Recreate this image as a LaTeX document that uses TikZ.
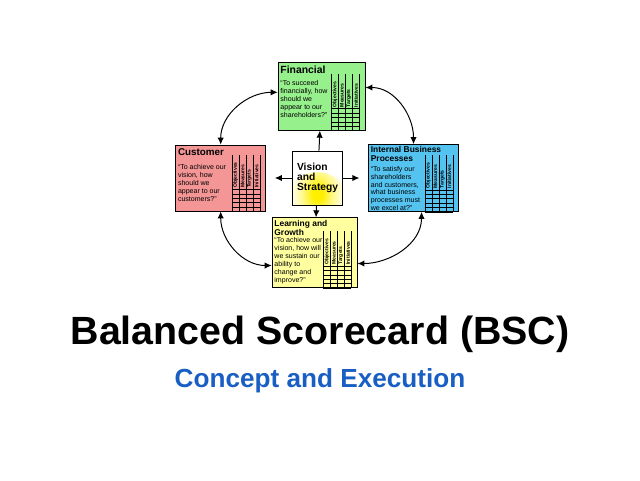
\documentclass[tikz,border=0pt]{standalone}
\usepackage{fontspec}
\setmainfont{Liberation Sans}
\usetikzlibrary{positioning,arrows.meta}

\definecolor{finfill}{RGB}{150,240,140}
\definecolor{cusfill}{RGB}{245,150,150}
\definecolor{ibpfill}{RGB}{85,195,240}
\definecolor{lrnfill}{RGB}{255,255,160}
\definecolor{subblue}{RGB}{25,95,195}
\definecolor{glowyellow}{RGB}{255,240,0}

\pgfdeclareradialshading{visionglow}{\pgfpoint{0bp}{0bp}}{%
  color(0bp)=(glowyellow); color(4bp)=(glowyellow);
  color(12bp)=(glowyellow!45!white); color(22bp)=(white); color(50bp)=(white)}

\tikzset{
  card/.style={draw, line width=0.5pt, fill=#1, inner sep=0pt},
  cardtitle/.style={anchor=north west, inner sep=0pt, align=left,
    font=\fontsize{7}{7.4}\selectfont\bfseries},
  cardtext/.style={anchor=north west, inner sep=0pt, align=left,
    font=\fontsize{5}{5.7}\selectfont},
  gridline/.style={line width=0.3pt},
  hdr/.style={rotate=90, anchor=west, inner sep=0pt,
    font=\fontsize{3.6}{4}\selectfont\bfseries},
  link/.style={line width=0.7pt, -{Latex[length=5pt,width=4.5pt]}},
  twoway/.style={line width=0.7pt, {Latex[length=5pt,width=4.5pt]}-{Latex[length=5pt,width=4.5pt]}}
}

% objectives / measures / targets / initiatives table in a card
\newcommand{\cardgrid}[1]{%
  \begin{scope}[shift={(#1.south east)}]
    \foreach \i in {0,...,4}
      \draw[gridline] (-0.85+\i*0.175,0) -- (-0.85+\i*0.175,1.42);
    \foreach \j in {0,...,5}
      \draw[gridline] (-0.85,\j*0.11) -- (-0.15,\j*0.11);
    \foreach \t [count=\i] in {Objectives,Measures,Targets,Initiatives}
      \node[hdr] at (-0.85+\i*0.175-0.0875,0.58) {\t};
  \end{scope}}

\begin{document}
\begin{tikzpicture}
  \useasboundingbox (0,0) rectangle (16,-12);

  \node[draw, line width=0.5pt, fill=white, minimum width=1.225cm, minimum height=1.35cm,
        align=left, font=\fontsize{7.3}{7.2}\selectfont\bfseries,
        path picture={\shade[shading=visionglow]
          ([yshift=0.02cm]path picture bounding box.south) circle (0.8cm);}]
        (vision) at (7.94,-4.45) {Vision\\and\\Strategy};

  \node[card=finfill, minimum width=2.175cm, minimum height=1.7cm,
        above=5mm of vision, xshift=0.1cm] (financial) {};
  \node[card=cusfill, minimum width=2.25cm, minimum height=1.65cm,
        left=6.5mm of vision] (customer) {};
  \node[card=ibpfill, minimum width=2.25cm, minimum height=1.675cm,
        right=6.25mm of vision] (internal) {};
  \node[card=lrnfill, minimum width=2.125cm, minimum height=1.75cm,
        below=3mm of vision, xshift=-0.075cm] (learning) {};

  \node[cardtitle, font=\fontsize{7.4}{7.6}\selectfont\bfseries]
        (fintitle) at ([shift={(0.06,-0.1)}]financial.north west) {Financial};
  \node[cardtext] (fintext) at ([yshift=-0.14cm]fintitle.south west)
        {``To succeed\\financially, how\\should we\\appear to our\\shareholders?''};

  \node[cardtitle] (custitle) at ([shift={(0.06,-0.08)}]customer.north west) {Customer};
  \node[cardtext] (custext) at ([yshift=-0.22cm]custitle.south west)
        {``To achieve our\\vision, how\\should we\\appear to our\\customers?''};

  \node[cardtitle, font=\fontsize{6}{6.4}\selectfont\bfseries]
        (ibptitle) at ([shift={(0.06,-0.06)}]internal.north west) {Internal Business\\Processes};
  \node[cardtext, font=\fontsize{5}{5.5}\selectfont] (ibptext) at ([yshift=-0.1cm]ibptitle.south west)
        {``To satisfy our\\shareholders\\and customers,\\what business\\processes must\\we excel at?''};

  \node[cardtitle, font=\fontsize{6}{6.4}\selectfont\bfseries]
        (lrntitle) at ([shift={(0.06,-0.06)}]learning.north west) {Learning and\\Growth};
  \node[cardtext] (lrntext) at ([yshift=-0.04cm]lrntitle.south west)
        {``To achieve our\\vision, how will\\we sustain our\\ability to\\change and\\improve?''};

  \cardgrid{financial}
  \cardgrid{customer}
  \cardgrid{internal}
  \cardgrid{learning}

  \draw[link] (vision) -- (financial);
  \draw[link] (vision) -- (learning);
  \draw[link, shorten >=0.22cm] (vision.west) -- (vision.west -| customer.east);
  \draw[link, shorten >=0.22cm] (vision.east) -- (vision.east -| internal.west);

  \path (customer.north) edge[twoway, out=90, in=180] ([yshift=0.1cm]financial.west);
  \path ([yshift=0.22cm]financial.east) edge[twoway, out=0, in=90] (internal.north);
  \path ([xshift=0.2cm]internal.south) edge[twoway, out=-90, in=0] ([yshift=-0.27cm]learning.east);
  \path (customer.south) edge[twoway, out=-90, in=180] ([yshift=-0.32cm]learning.west);

  \node[anchor=base, font=\fontsize{28}{30}\selectfont\bfseries] (title) at (8,-8.6)
        {Balanced Scorecard (BSC)};
  \node[anchor=base, font=\fontsize{18.6}{20}\selectfont\bfseries, text=subblue] (subtitle)
        at (8,-9.675) {Concept and Execution};
\end{tikzpicture}
\end{document}
